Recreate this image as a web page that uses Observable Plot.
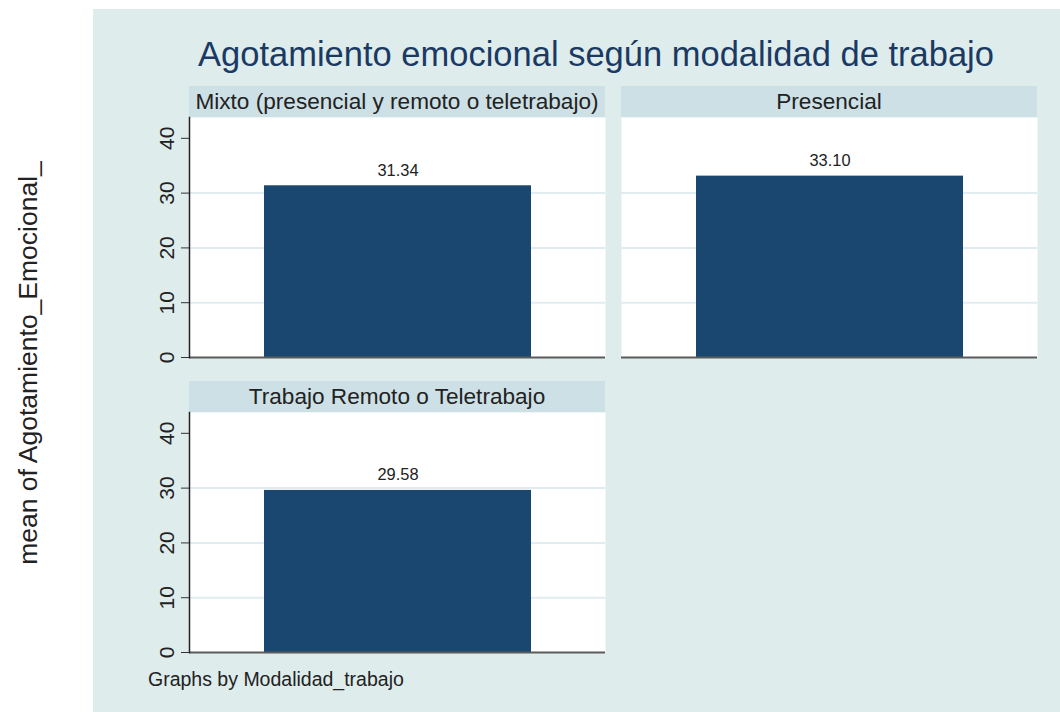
<!DOCTYPE html>
<html>
<head>
<meta charset="utf-8">
<script src="https://cdn.jsdelivr.net/npm/d3@7"></script>
<script src="https://cdn.jsdelivr.net/npm/@observablehq/plot@0.6"></script>
<style>
  html, body { margin: 0; padding: 0; background: #ffffff; }
  #root { position: relative; width: 1060px; height: 712px; background: #ffffff; overflow: hidden;
          font-family: "Liberation Sans", Arial, Helvetica, sans-serif; color: #222; }
  .abs { position: absolute; }
  .strip { position: absolute; background: #cde0e6; color: #222; font-size: 22.6px; text-align: center;
           white-space: nowrap; box-sizing: border-box; }
  svg { overflow: visible; }
</style>
</head>
<body>
<div id="root"></div>
<script>
// ---- data ----
const title = "Agotamiento emocional según modalidad de trabajo";
const yTitle = "mean of Agotamiento_Emocional_";
const note = "Graphs by Modalidad_trabajo";
const categories = ["Mixto (presencial y remoto o teletrabajo)", "Presencial", "Trabajo Remoto o Teletrabajo"];
const means = [31.34, 33.10, 29.58];
const yTicks = [0, 10, 20, 30, 40];
const gridTicks = [10, 20, 30];

// ---- style / layout ----
const bgColor = "#dfecec";
const barColor = "#1a476f";
const gridColor = "#e1ecf0";
const panelW = 416, panelH = 240, stripH = 31;
const panels = [
  {left: 189, top: 86, axis: true},
  {left: 621, top: 86, axis: false},
  {left: 189, top: 381, axis: true}
];

const root = document.getElementById("root");

const bg = document.createElement("div");
bg.className = "abs";
Object.assign(bg.style, {left: "93px", top: "9px", width: "967px", height: "703px", background: bgColor});
root.appendChild(bg);

const t = document.createElement("div");
t.className = "abs";
t.textContent = title;
Object.assign(t.style, {left: "93px", width: "1006px", top: "34px", textAlign: "center", fontSize: "34.5px",
  color: "#1a3a63", whiteSpace: "nowrap", lineHeight: "40px"});
root.appendChild(t);

const yl = document.createElement("div");
yl.className = "abs";
yl.textContent = yTitle;
Object.assign(yl.style, {left: "28px", top: "363px", fontSize: "26.5px", color: "#222", whiteSpace: "nowrap",
  transform: "translate(-50%,-50%) rotate(-90deg)", lineHeight: "30px"});
root.appendChild(yl);

const cap = document.createElement("div");
cap.className = "abs";
cap.textContent = note;
Object.assign(cap.style, {left: "148px", top: "667px", fontSize: "19.5px", color: "#222", whiteSpace: "nowrap", lineHeight: "24px"});
root.appendChild(cap);

categories.forEach((cat, i) => {
  const p = panels[i];
  const data = [{cat, value: means[i]}];

  const s = document.createElement("div");
  s.className = "strip";
  s.textContent = cat;
  Object.assign(s.style, {left: p.left + "px", top: p.top + "px", width: panelW + "px", height: stripH + "px",
    lineHeight: stripH + "px"});
  root.appendChild(s);

  const ml = 50, mt = 4, mb = 16, mr = 2;
  const chart = Plot.plot({
    width: panelW + ml + mr,
    height: panelH + mt + mb,
    marginLeft: ml, marginRight: mr, marginTop: mt, marginBottom: mb,
    style: {background: "transparent", fontFamily: "Liberation Sans, Arial, sans-serif", color: "#222", overflow: "visible"},
    x: {domain: [cat], padding: 0.218, axis: null},
    y: {domain: [0, 43.8], axis: null},
    marks: [
      Plot.frame({fill: "white", stroke: null}),
      Plot.gridY(gridTicks, {stroke: gridColor, strokeOpacity: 1, strokeWidth: 2}),
      Plot.barY(data, {x: "cat", y: "value", fill: barColor}),
      Plot.ruleY([0], {stroke: "#5a5a5a", strokeWidth: 2}),
      p.axis ? Plot.axisY(yTicks, {tickSize: 8, tickRotate: -90, tickPadding: 8, fontSize: 21, stroke: "#333", label: null}) : null,
      p.axis ? Plot.frame({anchor: "left", stroke: "#222", strokeWidth: 1.5}) : null,
      Plot.text(data, {x: "cat", y: "value", text: d => d.value.toFixed(2), lineAnchor: "bottom", dy: -10,
        fontSize: 16.4, fill: "#222"})
    ]
  });
  chart.style.position = "absolute";
  chart.style.left = (p.left - ml) + "px";
  chart.style.top = (p.top + stripH - mt) + "px";
  root.appendChild(chart);
});
</script>
</body>
</html>
